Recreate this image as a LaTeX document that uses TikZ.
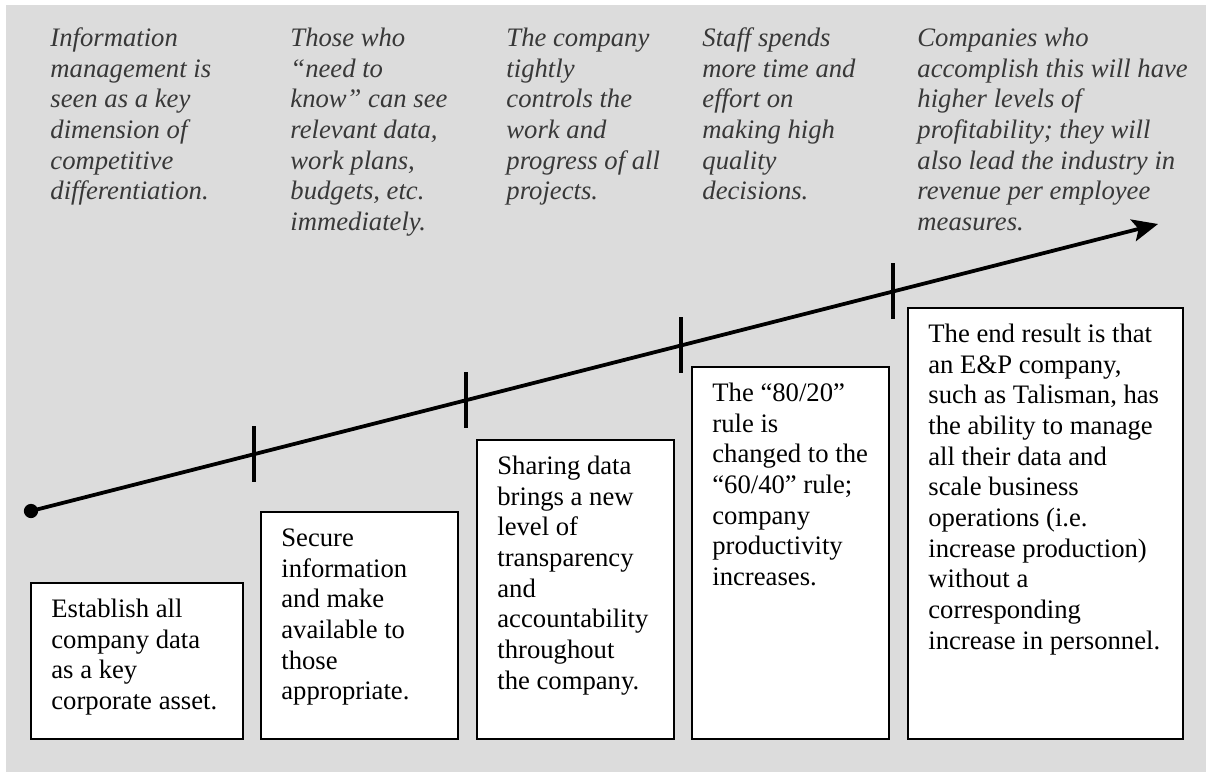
\documentclass[tikz,border=0pt]{standalone}
\usepackage{fontspec}
\setmainfont{Liberation Serif}
\usetikzlibrary{arrows.meta,calc,fit}
\definecolor{panel}{HTML}{DCDCDC}
\definecolor{note}{HTML}{383838}
\newcommand{\firstline}{\rule{0pt}{9pt}}
\tikzset{
  stepbox/.style={draw=black, fill=white, line width=0.95pt, inner sep=0pt},
  boxtext/.style={anchor=north west, inner sep=0pt, align=left,
    font=\fontsize{12}{13.8}\selectfont},
  notetext/.style={anchor=north west, inner sep=0pt, align=left, text=note,
    font=\fontsize{12}{13.8}\selectfont\itshape},
  timeline/.style={line width=1.7pt, -{Stealth[length=11.5pt,width=10pt,inset=2.5pt]}},
  tickmark/.style={line width=1.7pt}
}
\begin{document}
\begin{tikzpicture}[x=0.45pt, y=-0.45pt]
  \useasboundingbox (0,0) rectangle (1209,772);
  % grey panel
  \fill[panel] (6,5) rectangle (1206,772);

  % notes above the timeline
  \node[notetext] (n1) at (50,26) {\firstline Information\\management is\\seen as a key\\dimension of\\competitive\\differentiation.};
  \node[notetext] (n2) at (290,26) {\firstline Those who\\“need to\\know” can see\\relevant data,\\work plans,\\budgets, etc.\\immediately.};
  \node[notetext] (n3) at (506,26) {\firstline The company\\tightly\\controls the\\work and\\progress of all\\projects.};
  \node[notetext] (n4) at (702,26) {\firstline Staff spends\\more time and\\effort on\\making high\\quality\\decisions.};
  \node[notetext] (n5) at (917,26) {\firstline Companies who\\accomplish this will have\\higher levels of\\profitability; they will\\also lead the industry in\\revenue per employee\\measures.};

  % timeline
  \coordinate (s) at (31,511);
  \coordinate (e) at (1158,224);
  \draw[timeline] (s) -- (e);
  \fill (s) circle (3.2pt);
  \coordinate (k1) at ($(s)!0.1979!(e)$);
  \coordinate (k2) at ($(s)!0.3860!(e)$);
  \coordinate (k3) at ($(s)!0.5768!(e)$);
  \coordinate (k4) at ($(s)!0.7649!(e)$);
  \foreach \k in {k1,k2,k3,k4}
    \draw[tickmark] ($(\k)+(0,-28)$) -- ($(\k)+(0,28)$);

  % step boxes
  \node[stepbox, fit={(31,583) (243,739)}] (b1) {};
  \node[stepbox, fit={(261,512) (458,739)}] (b2) {};
  \node[stepbox, fit={(477,440) (674,739)}] (b3) {};
  \node[stepbox, fit={(692,367) (889,739)}] (b4) {};
  \node[stepbox, fit={(908,308) (1183,739)}] (b5) {};

  \node[boxtext] (t1) at ($(b1.north west)+(21,15)$) {\firstline Establish all\\company data\\as a key\\corporate asset.};
  \node[boxtext] (t2) at ($(b2.north west)+(21,15)$) {\firstline Secure\\information\\and make\\available to\\those\\appropriate.};
  \node[boxtext] (t3) at ($(b3.north west)+(21,15)$) {\firstline Sharing data\\brings a new\\level of\\transparency\\and\\accountability\\throughout\\the company.};
  \node[boxtext] (t4) at ($(b4.north west)+(21,15)$) {\firstline The “80/20”\\rule is\\changed to the\\“60/40” rule;\\company\\productivity\\increases.};
  \node[boxtext] (t5) at ($(b5.north west)+(21,15)$) {\firstline The end result is that\\an E\&P company,\\such as Talisman, has\\the ability to manage\\all their data and\\scale business\\operations (i.e.\\increase production)\\without a\\corresponding\\increase in personnel.};
\end{tikzpicture}
\end{document}
